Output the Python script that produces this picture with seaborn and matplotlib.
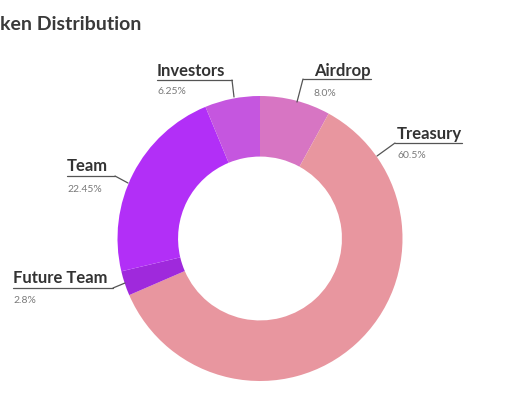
import matplotlib
matplotlib.use("Agg")
import matplotlib.pyplot as plt
import seaborn as sns

# Data
labels = ["Airdrop", "Treasury", "Future Team", "Team", "Investors"]
shares = [8.0, 60.5, 2.8, 22.45, 6.25]
pct_labels = ["8.0%", "60.5%", "2.8%", "22.45%", "6.25%"]
colors = ["#d775c3", "#e8969f", "#9f29dc", "#b22ff7", "#c556df"]

sns.set_theme(style="white")
plt.rcParams["font.family"] = ["Lato", "DejaVu Sans"]

W, H = 520, 400
CX, CY, R = 260, 238.5, 142.5

# label layout in pixels (from top-left): text x, name baseline, pct baseline,
# underline y, underline x range, leader tip on the ring
layout = {
    "Airdrop":     dict(tx=314, ny=76, py=96, ly=79, lx=(303, 371), tip=(297, 102)),
    "Treasury":    dict(tx=397, ny=139, py=158, ly=143, lx=(395, 462), tip=(377, 156)),
    "Future Team": dict(tx=13, ny=283, py=303, ly=288, lx=(13, 113), tip=(125, 283)),
    "Team":        dict(tx=67, ny=171, py=192, ly=176, lx=(67, 115), tip=(128, 183)),
    "Investors":   dict(tx=157, ny=76, py=94, ly=80, lx=(157, 232), tip=(234, 97)),
}


def px(x, y):
    return (x - CX) / R, (CY - y) / R


fig = plt.figure(figsize=(W / 100, H / 100), dpi=100)
ax = fig.add_axes([(CX - R) / W, (H - CY - R) / H, 2 * R / W, 2 * R / H])

ax.pie(shares, colors=colors, startangle=90, counterclock=False, radius=1,
       wedgeprops=dict(width=0.425, linewidth=0))
ax.set_xlim(-1, 1)
ax.set_ylim(-1, 1)
ax.axis("off")

for name, pct in zip(labels, pct_labels):
    L = layout[name]
    join = L["lx"][1] if L["tx"] < CX else L["lx"][0]
    x0, y0 = px(L["lx"][0], L["ly"])
    x1, y1 = px(L["lx"][1], L["ly"])
    ax.plot([x0, x1], [y0, y1], color="#555555", lw=0.9, clip_on=False)
    jx, jy = px(join, L["ly"])
    tx, ty = px(*L["tip"])
    ax.plot([jx, tx], [jy, ty], color="#555555", lw=0.9, clip_on=False)
    nx, ny = px(L["tx"], L["ny"])
    ax.text(nx, ny, name, fontsize=12, fontweight="bold", color="#333333",
            va="baseline", ha="left", clip_on=False)
    qx, qy = px(L["tx"], L["py"])
    ax.text(qx, qy, pct, fontsize=7.5, color="#7a7a7a",
            va="baseline", ha="left", clip_on=False)

fig.text(0, 1 - 30 / H, "ken Distribution", fontsize=14, fontweight="bold",
         color="#3a3a3a", ha="left", va="baseline")

fig.savefig("out.png", dpi=100, facecolor="white")
